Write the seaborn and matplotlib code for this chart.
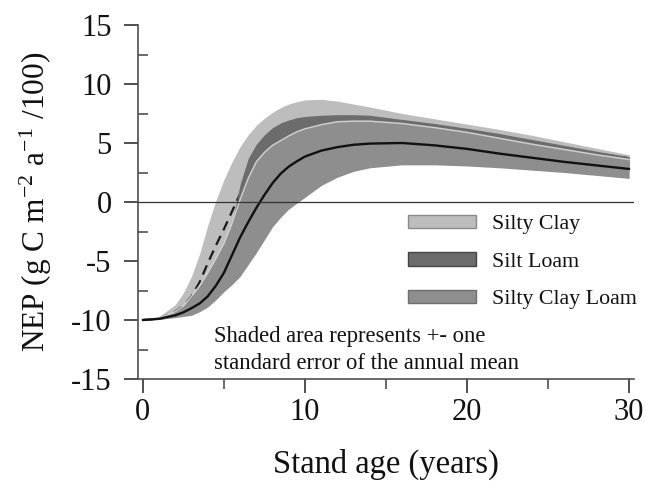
import matplotlib
matplotlib.use("Agg")
import matplotlib.pyplot as plt
import matplotlib.patches as mpatches
import pandas as pd
import seaborn as sns

# Stand age (years) and modelled NEP (g C m-2 a-1 / 100) for three soil textures
age = [0, 1, 2, 2.5, 3, 3.5, 4, 4.5, 5, 5.5, 6, 6.5, 7, 7.5, 8, 8.5, 9, 9.5, 10,
       11, 12, 13, 14, 16, 18, 20, 22, 24, 26, 28, 30]

# Silty Clay: mean and +/- one standard error
sc_mean = [-10.0, -9.9, -9.3, -8.8, -8.0, -6.8, -5.2, -3.7, -2.3, -0.8, 0.7, 2.2, 3.5,
           4.4, 5.0, 5.4, 5.8, 6.0, 6.2, 6.4, 6.5, 6.5, 6.45, 6.3, 6.0, 5.7, 5.3, 4.9,
           4.5, 4.1, 3.7]
sc_upper = [-10.0, -9.7, -8.7, -7.7, -6.3, -4.4, -2.0, 0.1, 1.9, 3.4, 4.7, 5.7, 6.5,
            7.1, 7.6, 8.0, 8.3, 8.5, 8.65, 8.7, 8.55, 8.3, 8.05, 7.5, 7.05, 6.6, 6.15,
            5.65, 5.1, 4.55, 4.0]
sc_lower = [-10.0, -9.95, -9.7, -9.4, -9.0, -8.4, -7.5, -6.6, -5.5, -4.3, -3.0, -1.2,
            0.5, 1.6, 2.5, 3.0, 3.4, 3.6, 3.8, 4.0, 4.2, 4.3, 4.3, 4.3, 4.2, 4.0, 3.8,
            3.6, 3.3, 3.0, 2.7]

# Silt Loam: mean and +/- one standard error
sl_mean = [-10.0, -9.9, -9.5, -9.2, -8.7, -8.0, -7.0, -6.0, -4.8, -3.3, -1.5, 0.3, 2.0,
           3.1, 4.0, 4.6, 5.0, 5.35, 5.6, 5.9, 6.1, 6.2, 6.2, 6.0, 5.7, 5.3, 4.9, 4.5,
           4.1, 3.7, 3.3]
sl_upper = [-10.0, -9.9, -9.6, -9.3, -8.9, -8.3, -7.3, -6.0, -4.3, -1.8, 1.5, 3.7, 4.9,
            5.7, 6.3, 6.7, 6.95, 7.15, 7.25, 7.35, 7.4, 7.4, 7.35, 7.0, 6.65, 6.25, 5.8,
            5.3, 4.8, 4.3, 3.85]
sl_lower = [-10.0, -9.95, -9.6, -9.4, -9.0, -8.6, -7.9, -7.0, -6.0, -4.9, -3.5, -2.0,
            -0.5, 0.7, 1.8, 2.5, 3.1, 3.55, 3.9, 4.3, 4.6, 4.8, 4.9, 4.9, 4.7, 4.4, 4.0,
            3.7, 3.3, 3.0, 2.7]

# Silty Clay Loam: mean and +/- one standard error
scl_mean = [-10.0, -9.9, -9.6, -9.35, -9.0, -8.6, -8.0, -7.1, -6.0, -4.5, -3.0, -1.7,
            -0.5, 0.6, 1.6, 2.4, 3.0, 3.45, 3.85, 4.35, 4.65, 4.85, 4.95, 5.0, 4.8, 4.5,
            4.1, 3.75, 3.4, 3.1, 2.8]
scl_upper = [-10.0, -9.85, -9.3, -8.8, -8.0, -7.1, -6.0, -4.8, -3.5, -1.8, 0.2, 2.0,
             3.4, 4.2, 4.8, 5.2, 5.6, 5.95, 6.2, 6.55, 6.8, 6.85, 6.85, 6.65, 6.3, 5.9,
             5.4, 4.9, 4.45, 4.0, 3.6]
scl_lower = [-10.0, -9.95, -9.8, -9.7, -9.6, -9.3, -8.9, -8.3, -7.6, -7.0, -6.3, -5.3,
             -4.3, -3.2, -2.1, -1.3, -0.6, -0.1, 0.4, 1.4, 2.1, 2.6, 2.9, 3.15, 3.15,
             3.05, 2.9, 2.7, 2.5, 2.25, 2.0]

soil_labels = ["Silty Clay", "Silt Loam", "Silty Clay Loam"]
soil_colors = ["#bdbdbd", "#6c6c6c", "#8e8e8e"]
soil_edges = ["#8a8a8a", "#444444", "#6e6e6e"]

df = pd.DataFrame({
    "age": age,
    "sc_mean": sc_mean, "sc_upper": sc_upper, "sc_lower": sc_lower,
    "sl_mean": sl_mean, "sl_upper": sl_upper, "sl_lower": sl_lower,
    "scl_mean": scl_mean, "scl_upper": scl_upper, "scl_lower": scl_lower,
})

sns.set_theme(style="ticks")
plt.rcParams["font.family"] = ["Liberation Serif", "DejaVu Serif"]
plt.rcParams["mathtext.fontset"] = "stix"
plt.rcParams["axes.unicode_minus"] = False

W, H = 645, 498
fig = plt.figure(figsize=(W / 100, H / 100), dpi=100)
fig.patch.set_facecolor("white")
ax = fig.add_axes([138 / W, 1 - 379 / H, (634 - 138) / W, (379 - 25) / H])
ax.set_facecolor("white")

# Standard-error bands, drawn back to front
ax.fill_between(df["age"], df["sc_lower"], df["sc_upper"], color=soil_colors[0], lw=0, zorder=1)
sns.lineplot(data=df, x="age", y="sc_mean", ax=ax, color="#1a1a1a", lw=1.6,
             estimator=None, sort=False, zorder=2)
ax.lines[-1].set_dashes((4.5, 2.8))
ax.fill_between(df["age"], df["sl_lower"], df["sl_upper"], color=soil_colors[1], lw=0, zorder=3)
ax.fill_between(df["age"], df["scl_lower"], df["scl_upper"], color=soil_colors[2], lw=0, zorder=4)
sns.lineplot(data=df, x="age", y="scl_upper", ax=ax, color="#cfcfcf", lw=1.1,
             estimator=None, sort=False, zorder=5)
sns.lineplot(data=df, x="age", y="scl_mean", ax=ax, color="#111111", lw=1.7,
             estimator=None, sort=False, zorder=6)

ax.axhline(0, color="#333333", lw=0.9, zorder=7)

ax.set_xlim(-0.3, 30.3)
ax.set_ylim(-15, 15)

spine_col = "#505050"
for side in ["top", "right"]:
    ax.spines[side].set_visible(False)
for side in ["left", "bottom"]:
    ax.spines[side].set_color(spine_col)
    ax.spines[side].set_linewidth(1.2)

ax.set_xticks([0, 10, 20, 30])
ax.set_xticks([5, 15, 25], minor=True)
ax.set_yticks([-15, -10, -5, 0, 5, 10, 15])
ax.set_yticks([-12.5, -7.5, -2.5, 2.5, 7.5, 12.5], minor=True)
ax.tick_params(axis="x", which="major", direction="out", length=10, width=1.4,
               color=spine_col, labelsize=22, pad=4, labelcolor="#111111")
ax.tick_params(axis="x", which="minor", direction="out", length=7, width=1.2, color=spine_col)
ax.tick_params(axis="y", which="major", direction="out", length=10, width=1.4,
               color=spine_col, labelsize=22, pad=9, labelcolor="#111111")
ax.tick_params(axis="y", which="minor", direction="in", length=7, width=1.2, color=spine_col)

ax.set_xlabel("Stand age (years)", fontsize=23.5, color="#111111", labelpad=15)
ax.set_ylabel(r"NEP (g C m$^{\mathregular{-2}}$ a$^{\mathregular{-1}}$ /100)", fontsize=22.5,
              color="#111111", labelpad=12)

handles = [mpatches.Patch(facecolor=c, edgecolor=e, lw=1.0, label=l)
           for c, e, l in zip(soil_colors, soil_edges, soil_labels)]
leg = ax.legend(handles=handles, loc="upper left", frameon=False,
                bbox_to_anchor=(408 / W, 1 - 215 / H), bbox_transform=fig.transFigure,
                borderpad=0, borderaxespad=0, fontsize=15.8, handlelength=3.1,
                handleheight=0.55, handletextpad=0.72, labelspacing=0.82)
for t in leg.get_texts():
    t.set_color("#111111")

fig.text(214 / W, 1 - 342 / H, "Shaded area represents +- one", fontsize=16.3,
         va="baseline", ha="left", color="#111111")
fig.text(214 / W, 1 - 369 / H, "standard error of the annual mean", fontsize=16.3,
         va="baseline", ha="left", color="#111111")

fig.savefig("out.png", dpi=100, facecolor="white")
